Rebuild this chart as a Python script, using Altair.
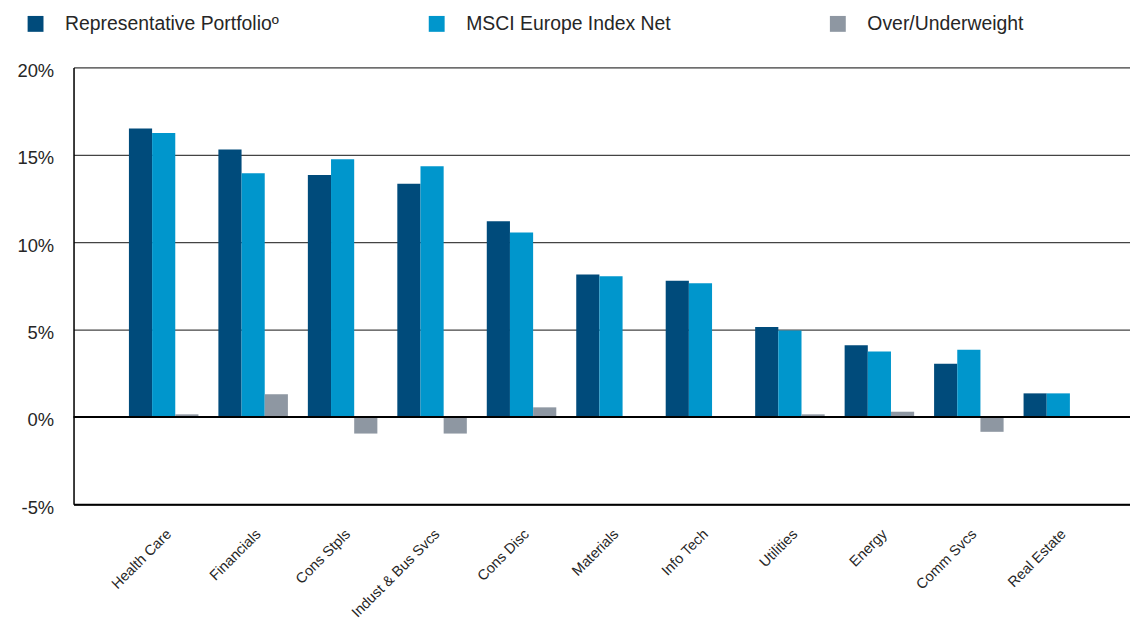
import altair as alt
import pandas as pd

categories = ["Health Care", "Financials", "Cons Stpls", "Indust & Bus Svcs", "Cons Disc",
              "Materials", "Info Tech", "Utilities", "Energy", "Comm Svcs", "Real Estate"]
series_names = ["Representative Portfolio\u00ba", "MSCI Europe Index Net", "Over/Underweight"]
rep = [16.5, 15.3, 13.85, 13.35, 11.2, 8.15, 7.8, 5.15, 4.1, 3.05, 1.35]
msci = [16.25, 13.95, 14.75, 14.35, 10.55, 8.05, 7.65, 4.95, 3.75, 3.85, 1.35]
ou = [0.15, 1.3, -0.95, -0.95, 0.55, 0.05, 0.05, 0.15, 0.3, -0.85, 0.0]
y_ticks = [-5, 0, 5, 10, 15, 20]
colors = ["#004b7b", "#0096cc", "#8e97a2"]

rows = []
for i, c in enumerate(categories):
    for s, vals in zip(series_names, [rep, msci, ou]):
        rows.append({"category": c, "series": s, "value": vals[i]})
df = pd.DataFrame(rows)

FONT = "Liberation Sans"
TXT = "#262626"

bars = alt.Chart(df).mark_bar().encode(
    x=alt.X("category:N", sort=categories,
            scale=alt.Scale(paddingInner=0.223, paddingOuter=0.516, align=0.6),
            axis=alt.Axis(title=None, labelAngle=-45, labelAlign="right", labelBaseline="top",
                          labelPadding=22, labelOffset=0, ticks=False, domainColor="black",
                          domainWidth=2, labelFontSize=14.6, labelColor=TXT, labelFont=FONT,
                          labelLimit=300, grid=False)),
    xOffset=alt.XOffset("series:N", sort=series_names,
                        scale=alt.Scale(paddingInner=0, paddingOuter=0)),
    y=alt.Y("value:Q", scale=alt.Scale(domain=[-5, 20], nice=False),
            axis=alt.Axis(values=y_ticks, labelExpr="datum.value + '%'", title=None, ticks=False,
                          domainColor="black", domainWidth=1.5, grid=True, gridColor="#444444",
                          gridWidth=1.3, labelPadding=20, labelOffset=3, labelFontSize=18.5,
                          labelColor=TXT, labelFont=FONT)),
    y2=alt.datum(0),
    color=alt.Color("series:N", sort=series_names,
                    scale=alt.Scale(domain=series_names, range=colors),
                    legend=alt.Legend(title=None, orient="none", legendX=-48, legendY=-54,
                                      direction="horizontal", columns=3, symbolType="square",
                                      symbolSize=256, symbolStrokeWidth=0, symbolOpacity=1,
                                      labelFontSize=19.5, labelFont=FONT, labelColor=TXT,
                                      labelOffset=20, columnPadding=149, gridAlign="all",
                                      labelLimit=400)),
)

zero = alt.Chart(pd.DataFrame({"value": [0]})).mark_rule(color="black", strokeWidth=2).encode(
    y=alt.Y("value:Q")
)

chart = alt.layer(bars, zero).properties(
    width=1064, height=440,
    autosize=alt.AutoSizeParams(type="none"),
    padding={"left": 66, "top": 57.7, "right": 0, "bottom": 114},
).configure_view(stroke=None).configure(background="white")

chart.save("out.html", embed_options={"renderer": "svg", "actions": False})
